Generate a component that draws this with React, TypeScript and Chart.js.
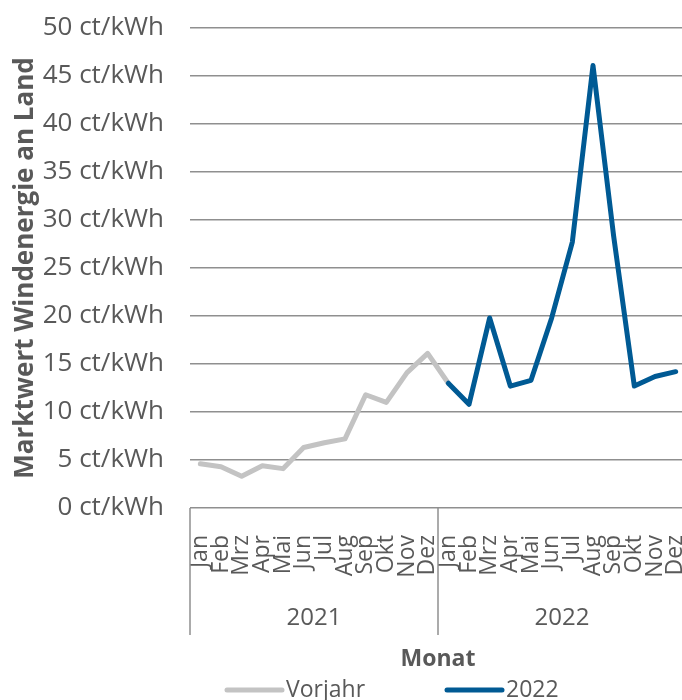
import { useEffect, useRef } from "react";
import { Chart, registerables } from "chart.js";

Chart.register(...registerables);

const months = ["Jan", "Feb", "Mrz", "Apr", "Mai", "Jun", "Jul", "Aug", "Sep", "Okt", "Nov", "Dez"];
const years = ["2021", "2022"];
const categories = [...months, ...months];

const vorjahrValues = [4.6, 4.3, 3.3, 4.4, 4.1, 6.3, 6.8, 7.2, 11.8, 11.0, 14.1, 16.1, 13.0,
  null, null, null, null, null, null, null, null, null, null, null];
const values2022 = [null, null, null, null, null, null, null, null, null, null, null, null,
  13.0, 10.8, 19.8, 12.7, 13.3, 19.8, 27.7, 46.1, 28.3, 12.7, 13.7, 14.2];

const yMin = 0;
const yMax = 50;
const yStep = 5;
const yUnit = " ct/kWh";

const yTitle = "Marktwert Windenergie an Land";
const xTitle = "Monat";
const seriesNames = ["Vorjahr", "2022"];

const textColor = "#595959";
const gridColor = "#8f8f8f";
const grayColor = "#c3c3c3";
const blueColor = "#005a94";
const FONT = "'Open Sans', 'Noto Sans', sans-serif";

const legendStarts = [227, 447];

const overlayPlugin = {
  id: "overlay",
  afterDraw(chart: any) {
    const { ctx } = chart;
    const x = chart.scales.x;
    const step = x.getPixelForValue(1) - x.getPixelForValue(0);
    const top = chart.chartArea.bottom;
    ctx.save();
    ctx.strokeStyle = gridColor;
    ctx.lineWidth = 1.5;
    const bounds = [0, months.length, categories.length].map((i) => x.getPixelForValue(i) - step / 2);
    bounds.forEach((b) => {
      ctx.beginPath();
      ctx.moveTo(b, top);
      ctx.lineTo(b, top + 127);
      ctx.stroke();
    });
    ctx.fillStyle = textColor;
    ctx.font = `24px ${FONT}`;
    ctx.textAlign = "center";
    ctx.textBaseline = "middle";
    years.forEach((yr, i) => {
      ctx.fillText(yr, (bounds[i] + bounds[i + 1]) / 2, top + 110);
    });
    // legend
    const ly = 690;
    ctx.font = `23px ${FONT}`;
    [0, 1].forEach((di, k) => {
      const ds = chart.data.datasets[di];
      const lx = legendStarts[k];
      ctx.strokeStyle = ds.borderColor;
      ctx.lineWidth = 5;
      ctx.lineCap = "round";
      ctx.beginPath();
      ctx.moveTo(lx, ly);
      ctx.lineTo(lx + 55, ly);
      ctx.stroke();
      ctx.fillStyle = textColor;
      ctx.textAlign = "left";
      ctx.fillText(ds.label, lx + 59, ly);
    });
    ctx.restore();
  },
};

export default function App() {
  const canvasRef = useRef<HTMLCanvasElement | null>(null);

  useEffect(() => {
    if (!canvasRef.current) return;
    Chart.defaults.font.family = FONT;
    const chart = new Chart(canvasRef.current, {
      type: "line",
      data: {
        labels: categories,
        datasets: [
          {
            label: seriesNames[0],
            data: vorjahrValues,
            borderColor: grayColor,
            backgroundColor: grayColor,
            borderWidth: 5,
            pointRadius: 0,
            borderJoinStyle: "round",
            borderCapStyle: "round",
            order: 2,
          },
          {
            label: seriesNames[1],
            data: values2022,
            borderColor: blueColor,
            backgroundColor: blueColor,
            borderWidth: 5,
            pointRadius: 0,
            borderJoinStyle: "round",
            borderCapStyle: "round",
            order: 1,
          },
        ],
      },
      options: {
        responsive: false,
        animation: false,
        devicePixelRatio: 1,
        layout: { padding: { left: 0, right: 4, top: 28, bottom: 39 } },
        plugins: {
          legend: { display: false },
          tooltip: { enabled: false },
        },
        scales: {
          x: {
            type: "category",
            offset: true,
            grid: { display: false },
            border: { display: false },
            ticks: {
              autoSkip: false,
              maxRotation: 90,
              minRotation: 90,
              padding: 19,
              color: textColor,
              font: { size: 23, family: FONT },
            },
            title: {
              display: true,
              text: xTitle,
              color: textColor,
              font: { size: 23, weight: "bold", family: FONT },
              padding: { top: 0, bottom: 0 },
            },
            afterFit: (scale: any) => {
              scale.height = 165;
              scale.paddingLeft = 0;
              scale.paddingRight = 0;
            },
          },
          y: {
            min: yMin,
            max: yMax,
            ticks: {
              stepSize: yStep,
              padding: 26,
              color: textColor,
              font: { size: 26, family: FONT },
              callback: (v: any) => `${v}${yUnit}`,
            },
            grid: { color: gridColor, lineWidth: 1.5, drawTicks: false },
            border: { display: false },
            title: {
              display: true,
              text: yTitle,
              color: textColor,
              font: { size: 26, weight: "bold", family: FONT },
              padding: { top: 10, bottom: 0 },
            },
            afterFit: (scale: any) => {
              scale.width = 190;
              scale.paddingTop = 0;
              scale.paddingBottom = 0;
            },
          },
        },
      },
      plugins: [overlayPlugin],
    });
    return () => chart.destroy();
  }, []);

  return (
    <div style={{ position: "fixed", left: 0, top: 0, width: 682, height: 700, overflow: "hidden", background: "#fff" }}>
      <canvas ref={canvasRef} width={690} height={712} style={{ width: 690, height: 712, display: "block" }} />
    </div>
  );
}
